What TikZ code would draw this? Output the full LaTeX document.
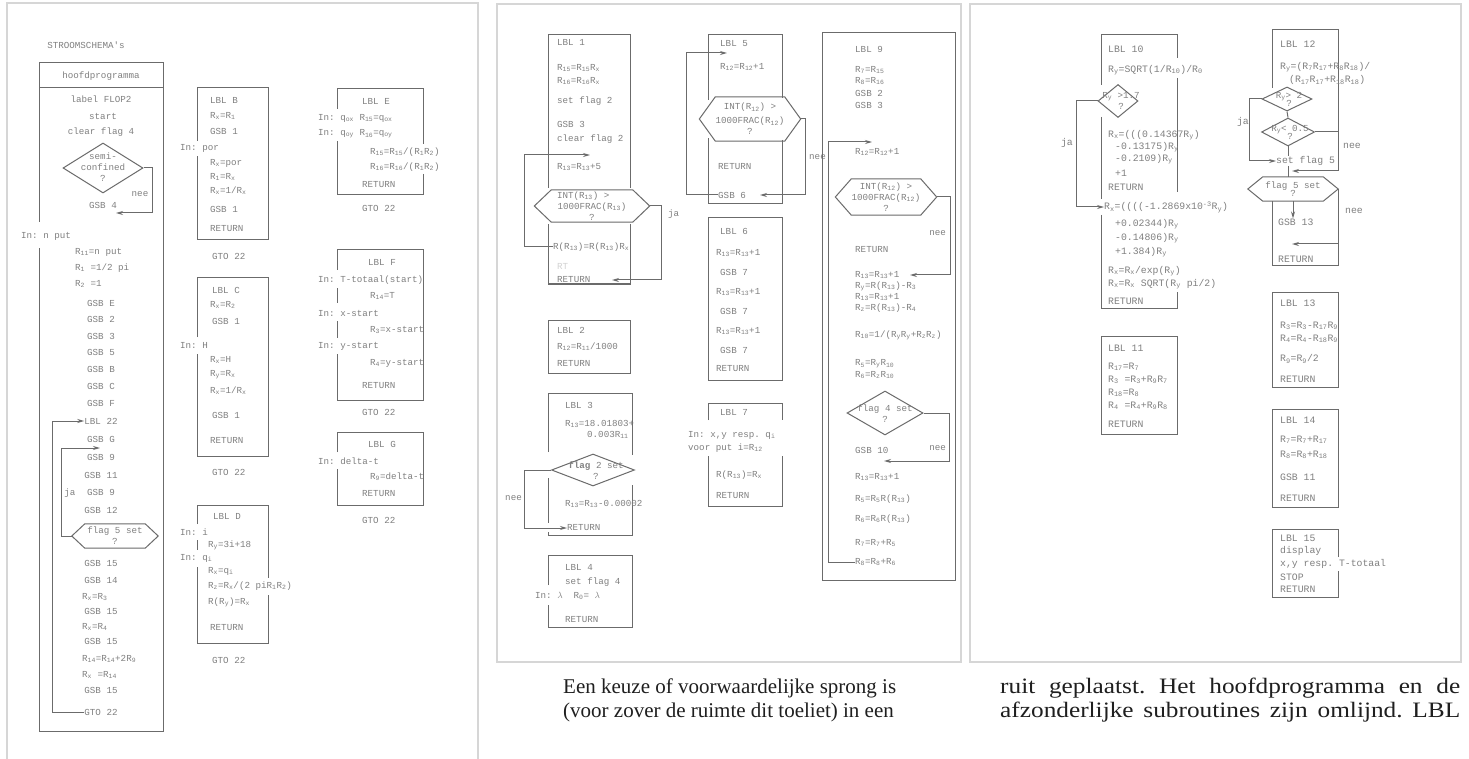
\documentclass[tikz,border=0pt]{standalone}
\usepackage{fontspec}
\setmonofont{Liberation Mono}
\newfontfamily\bodyf{Liberation Serif}
\newfontfamily\bodyw{Liberation Serif}[FakeStretch=1.15]
\usetikzlibrary{arrows.meta,shapes.geometric}
\definecolor{ink}{gray}{0.50}
\definecolor{rule}{gray}{0.42}
\definecolor{pagecol}{gray}{0.84}
\definecolor{bodycol}{gray}{0.12}
\frenchspacing
\newcommand\tw{\ttfamily\fontsize{9.2}{11}\selectfont}
\newcommand\twr{\ttfamily\fontsize{9.8}{11}\selectfont}
\newcommand\bodyfont{\bodyf\fontsize{21}{24}\selectfont}
\newcommand\sub[1]{\textsubscript{#1}}
% hexagon round a text node: name, point length
\newcommand\hexframe[2]{\draw[ln] (#1.north west) -- (#1.north east) -- ([xshift=#2]#1.east) coordinate (#1e) -- (#1.south east) -- (#1.south west) -- ([xshift=-#2]#1.west) coordinate (#1w) -- cycle;}

\begin{document}
\begin{tikzpicture}[x=1pt,y=-1pt]
\tikzset{
	txt/.style={font=\tw, text=ink, inner sep=0pt, anchor=west},
	ctxt/.style={font=\tw, text=ink, inner sep=0pt, align=center},
	hexn/.style={font=\tw, text=ink, inner sep=0pt, align=center},
	rtxt/.style={txt, font=\twr},
	ln/.style={draw=rule, line width=1pt},
	arr/.style={ln, -{Stealth[length=7pt,width=4pt]}},
	dia/.style={diamond, draw=rule, line width=1pt, inner sep=0pt},
	page/.style={draw=pagecol, line width=1.2pt},
	body/.style={font=\bodyfont, text=bodycol, inner sep=0pt, anchor=west}
}
\fill[white] (0,0) rectangle (1469,759);
\useasboundingbox (0,0) rectangle (1469,759);

% pagina's
\draw[page] (7,759) -- (7,3) -- (478,3) -- (478,759);
\draw[page] (497,4) rectangle (961,662);
\draw[page] (970,4) rectangle (1461,662);

% hoofdprogramma
\node[ctxt] (title) at (86,45) {STROOMSCHEMA's};
\draw[ln] (39,222) -- (39,63) -- (163,63) -- (163,731) -- (39,731) -- (39,248);
\draw[ln] (39,88) -- (163,88);
\node[ctxt] (hp) at (101,76) {hoofdprogramma};
\node[ctxt] (m_lbl) at (101,99) {label FLOP2};
\node[ctxt] (m_start) at (103,116) {start};
\node[ctxt] (m_clr) at (101,132) {clear flag 4};
\node[dia, minimum width=80pt, minimum height=50pt] (q_semi) at (103,168) {};
\node[ctxt] (q_semi_t) at (103,167) {semi-\\confined\\?};
\node[ctxt] (m_gsb4) at (103,205) {GSB 4};
\coordinate (c_gsb4) at (116,213);
\draw[arr] (q_semi.east) -- ++(9,0) |- (c_gsb4);
\node[ctxt] (n_semi) at (140,194) {nee};
\node[txt] (m_in) at (21,236) {In: n put};
\node[txt] (m_r11) at (75,252) {R\sub{11}=n put};
\node[txt] (m_r1) at (75,268) {R\sub{1} =1/2 pi};
\node[txt] (m_r2) at (75,284) {R\sub{2} =1};
\node[ctxt] (m_e) at (101,303) {GSB E};
\node[ctxt] (m_2) at (101,319) {GSB 2};
\node[ctxt] (m_3) at (101,336) {GSB 3};
\node[ctxt] (m_5) at (101,352) {GSB 5};
\node[ctxt] (m_b) at (101,369) {GSB B};
\node[ctxt] (m_c) at (101,386) {GSB C};
\node[ctxt] (m_f) at (101,403) {GSB F};
\node[ctxt] (m_lbl22) at (101,421) {LBL 22};
\node[ctxt] (m_g) at (101,439) {GSB G};
\node[ctxt] (m_9a) at (101,457) {GSB 9};
\node[ctxt] (m_11) at (101,475) {GSB 11};
\node[ctxt] (m_9b) at (101,492) {GSB 9};
\node[ctxt] (m_12) at (101,510) {GSB 12};
\node[hexn, minimum width=60pt, minimum height=24pt] (hF) at (115,536) {flag 5 set\\?};
\hexframe{hF}{13pt}
\coordinate (c_ja) at (100,448);
\draw[arr] (hFw) -- ++(-10,0) |- (c_ja);
\node[ctxt] (n_ja) at (70,493) {ja};
\node[ctxt] (m_15a) at (101,563) {GSB 15};
\node[ctxt] (m_14) at (101,580) {GSB 14};
\node[txt] (m_rx3) at (82,597) {R\sub{x}=R\sub{3}};
\node[ctxt] (m_15b) at (101,611) {GSB 15};
\node[txt] (m_rx4) at (82,627) {R\sub{x}=R\sub{4}};
\node[ctxt] (m_15c) at (101,641) {GSB 15};
\node[txt] (m_r14) at (82,659) {R\sub{14}=R\sub{14}+2R\sub{9}};
\node[txt] (m_rx14) at (82,675) {R\sub{x} =R\sub{14}};
\node[ctxt] (m_15d) at (101,690) {GSB 15};
\node[ctxt] (m_gto) at (101,712) {GTO 22};
\draw[arr] (m_gto.west) -- ++(-32,0) |- (m_lbl22.west);

% LBL B
\draw[ln] (197,141) -- (197,88) -- (268,88) -- (268,240) -- (197,240) -- (197,156);
\node[txt] (b_1) at (210,100) {LBL B};
\node[txt] (b_2) at (210,116) {R\sub{x}=R\sub{1}};
\node[txt] (b_3) at (210,131) {GSB 1};
\node[txt] (b_in) at (180,148) {In: por};
\node[txt] (b_4) at (210,163) {R\sub{x}=por};
\node[txt] (b_5) at (210,177) {R\sub{1}=R\sub{x}};
\node[txt] (b_6) at (210,191) {R\sub{x}=1/R\sub{x}};
\node[txt] (b_7) at (210,209) {GSB 1};
\node[txt] (b_8) at (210,229) {RETURN};
\node[txt] (b_gto) at (212,256) {GTO 22};

% LBL C
\draw[ln] (197,337) -- (197,278) -- (268,278) -- (268,456) -- (197,456) -- (197,354);
\node[txt] (c_1) at (212,290) {LBL C};
\node[txt] (c_2) at (210,305) {R\sub{x}=R\sub{2}};
\node[txt] (c_3) at (212,321) {GSB 1};
\node[txt] (c_in) at (180,345) {In: H};
\node[txt] (c_4) at (210,360) {R\sub{x}=H};
\node[txt] (c_5) at (210,375) {R\sub{y}=R\sub{x}};
\node[txt] (c_6) at (210,391) {R\sub{x}=1/R\sub{x}};
\node[txt] (c_7) at (212,415) {GSB 1};
\node[txt] (c_8) at (210,441) {RETURN};
\node[txt] (c_gto) at (212,472) {GTO 22};

% LBL D
\draw[ln] (197,524) -- (197,505) -- (268,505) -- (268,578);
\draw[ln] (268,595) -- (268,643) -- (197,643) -- (197,567);
\draw[ln] (197,540) -- (197,550);
\node[txt] (d_1) at (213,516) {LBL D};
\node[txt] (d_in1) at (180,532) {In: i};
\node[txt] (d_2) at (208,545) {R\sub{y}=3i+18};
\node[txt] (d_in2) at (180,558) {In: q\sub{i}};
\node[txt] (d_3) at (208,571) {R\sub{x}=q\sub{i}};
\node[txt] (d_4) at (208,586) {R\sub{z}=R\sub{x}/(2 piR\sub{1}R\sub{2})};
\node[txt] (d_5) at (208,602) {R(R\sub{y})=R\sub{x}};
\node[txt] (d_6) at (210,628) {RETURN};
\node[txt] (d_gto) at (212,660) {GTO 22};

% LBL E
\draw[ln] (337,109) -- (337,89) -- (423,89) -- (423,144);
\draw[ln] (423,174) -- (423,195) -- (337,195) -- (337,141);
\node[txt] (e_1) at (362,101) {LBL E};
\node[txt] (e_in1) at (318,118) {In: q\sub{ox} R\sub{15}=q\sub{ox}};
\node[txt] (e_in2) at (318,134) {In: q\sub{oy} R\sub{16}=q\sub{oy}};
\node[txt] (e_2) at (370,152) {R\sub{15}=R\sub{15}/(R\sub{1}R\sub{2})};
\node[txt] (e_3) at (370,167) {R\sub{16}=R\sub{16}/(R\sub{1}R\sub{2})};
\node[txt] (e_4) at (362,185) {RETURN};
\node[txt] (e_gto) at (362,208) {GTO 22};

% LBL F
\draw[ln] (337,270) -- (337,250) -- (423,250) -- (423,400) -- (337,400) -- (337,354);
\draw[ln] (337,288) -- (337,303);
\draw[ln] (337,321) -- (337,338);
\node[txt] (f_1) at (368,262) {LBL F};
\node[txt] (f_in1) at (318,280) {In: T-totaal(start)};
\node[txt] (f_2) at (370,296) {R\sub{14}=T};
\node[txt] (f_in2) at (318,313) {In: x-start};
\node[txt] (f_3) at (370,330) {R\sub{3}=x-start};
\node[txt] (f_in3) at (318,346) {In: y-start};
\node[txt] (f_4) at (370,363) {R\sub{4}=y-start};
\node[txt] (f_5) at (362,386) {RETURN};
\node[txt] (f_gto) at (362,412) {GTO 22};

% LBL G
\draw[ln] (337,452) -- (337,432) -- (423,432) -- (423,505) -- (337,505) -- (337,469);
\node[txt] (g_1) at (368,444) {LBL G};
\node[txt] (g_in) at (318,461) {In: delta-t};
\node[txt] (g_2) at (370,477) {R\sub{9}=delta-t};
\node[txt] (g_3) at (362,494) {RETURN};
\node[txt] (g_gto) at (362,520) {GTO 22};

% LBL 1
\draw[ln] (548,188) -- (548,35) -- (630,35) -- (630,188);
\draw[ln] (630,224) -- (630,284) -- (548,284) -- (548,224);
\node[txt] (i_1) at (557,42) {LBL 1};
\node[txt] (i_2) at (557,68) {R\sub{15}=R\sub{15}R\sub{x}};
\node[txt] (i_3) at (557,81) {R\sub{16}=R\sub{16}R\sub{x}};
\node[txt] (i_4) at (557,101) {set flag 2};
\node[txt] (i_5) at (557,124) {GSB 3};
\node[txt] (i_6) at (557,139) {clear flag 2};
\node[txt] (i_7) at (557,167) {R\sub{13}=R\sub{13}+5};
\node[hexn, minimum width=81pt, minimum height=32pt] (hA) at (592,206) {\makebox[70pt][l]{INT(R\sub{13}) >}\\1000FRAC(R\sub{13})\\?};
\hexframe{hA}{17pt}
\node[txt] (i_8) at (553,247) {R(R\sub{13})=R(R\sub{13})R\sub{x}};
\node[txt, text=ink!35] (i_rt) at (557,266) {RT};
\node[txt] (i_9) at (557,280) {RETURN};
\coordinate (c_i7) at (590,155);
\coordinate (c_i9) at (612,280);
\draw[arr] (i_8.west) -- ++(-29,0) |- (c_i7);
\draw[arr] (hAe) -- ++(12,0) |- (c_i9);
\node[txt] (n_hA) at (668,214) {ja};

% LBL 2
\draw[ln] (548,320) rectangle (630,373);
\node[txt] (k_1) at (557,330) {LBL 2};
\node[txt] (k_2) at (557,347) {R\sub{12}=R\sub{11}/1000};
\node[txt] (k_3) at (557,364) {RETURN};

% LBL 3
\draw[ln] (548,452) -- (548,393) -- (632,393) -- (632,455);
\draw[ln] (632,485) -- (632,535) -- (548,535) -- (548,532);
\draw[ln] (548,478) -- (548,523);
\node[txt] (l_1) at (565,405) {LBL 3};
\node[txt] (l_2) at (565,424) {R\sub{13}=18.01803+};
\node[txt] (l_3) at (587,435) {0.003R\sub{11}};
\node[dia, minimum width=83pt, minimum height=32pt] (q_f2) at (593,470) {};
\node[ctxt] (q_f2_t) at (596,471) {{\bfseries flag} 2 set\\?};
\node[txt] (l_4) at (565,504) {R\sub{13}=R\sub{13}-0.00002};
\node[txt] (l_5) at (567,528) {RETURN};
\draw[arr] (q_f2.west) -- ++(-27,0) |- (l_5.west);
\node[txt, anchor=east] (n_f2) at (522,498) {nee};

% LBL 4
\draw[ln] (548,585) -- (548,555) -- (632,555) -- (632,627) -- (548,627) -- (548,605);
\node[txt] (o_1) at (565,567) {LBL 4};
\node[txt] (o_2) at (565,582) {set flag 4};
\node[txt] (o_in) at (535,596) {In: $\lambda$\ \ R\sub{0}= $\lambda$};
\node[txt] (o_3) at (565,620) {RETURN};

% LBL 5
\draw[ln] (708,100) -- (708,35) -- (782,35) -- (782,98);
\draw[ln] (782,140) -- (782,204) -- (708,204) -- (708,138);
\node[txt] (p_1) at (720,44) {LBL 5};
\node[txt] (p_2) at (720,67) {R\sub{12}=R\sub{12}+1};
\node[hexn, minimum width=66pt, minimum height=44pt] (hB) at (750,119) {INT(R\sub{12}) >\\[3pt]1000FRAC(R\sub{12})\\?};
\hexframe{hB}{16pt}
\node[txt] (p_3) at (718,167) {RETURN};
\node[txt] (p_4) at (718,195) {GSB 6};
\coordinate (c_p1) at (727,53);
\coordinate (c_p4) at (760,195);
\draw[arr] (p_4.west) -- ++(-32,0) |- (c_p1);
\draw[arr] (hBe) -- ++(5,0) |- (c_p4);
\node[txt] (n_hB) at (809,157) {nee};

% LBL 6
\draw[ln] (708,218) rectangle (782,380);
\node[txt] (r_1) at (720,231) {LBL 6};
\node[txt] (r_2) at (716,253) {R\sub{13}=R\sub{13}+1};
\node[txt] (r_3) at (720,272) {GSB 7};
\node[txt] (r_4) at (716,292) {R\sub{13}=R\sub{13}+1};
\node[txt] (r_5) at (720,311) {GSB 7};
\node[txt] (r_6) at (716,331) {R\sub{13}=R\sub{13}+1};
\node[txt] (r_7) at (720,350) {GSB 7};
\node[txt] (r_8) at (716,369) {RETURN};

% LBL 7
\draw[ln] (708,420) -- (708,403) -- (782,403) -- (782,420);
\draw[ln] (782,456) -- (782,506) -- (708,506) -- (708,456);
\node[txt] (s_1) at (720,412) {LBL 7};
\node[txt] (s_in1) at (688,435) {In: x,y resp. q\sub{i}};
\node[txt] (s_in2) at (688,448) {voor put i=R\sub{12}};
\node[txt] (s_2) at (716,475) {R(R\sub{13})=R\sub{x}};
\node[txt] (s_3) at (716,496) {RETURN};

% LBL 9
\draw[ln] (822,33) rectangle (955,580);
\node[txt] (t_1) at (855,49) {LBL 9};
\node[txt] (t_2) at (855,70) {R\sub{7}=R\sub{15}};
\node[txt] (t_3) at (855,81) {R\sub{8}=R\sub{16}};
\node[txt] (t_4) at (855,93) {GSB 2};
\node[txt] (t_5) at (855,105) {GSB 3};
\node[txt] (t_6) at (855,152) {R\sub{12}=R\sub{12}+1};
\node[hexn, minimum width=64pt, minimum height=36pt] (hC) at (886,197) {INT(R\sub{12}) >\\1000FRAC(R\sub{12})\\?};
\hexframe{hC}{16pt}
\node[txt] (t_7) at (855,250) {RETURN};
\node[txt] (t_8) at (855,275) {R\sub{13}=R\sub{13}+1};
\node[txt] (t_9) at (855,286) {R\sub{y}=R(R\sub{13})-R\sub{3}};
\node[txt] (t_10) at (855,297) {R\sub{13}=R\sub{13}+1};
\node[txt] (t_11) at (855,308) {R\sub{z}=R(R\sub{13})-R\sub{4}};
\node[txt] (t_12) at (855,335) {R\sub{10}=1/(R\sub{y}R\sub{y}+R\sub{z}R\sub{z})};
\node[txt] (t_13) at (855,364) {R\sub{5}=R\sub{y}R\sub{10}};
\node[txt] (t_14) at (855,375) {R\sub{6}=R\sub{z}R\sub{10}};
\node[dia, minimum width=76pt, minimum height=44pt] (q_f4) at (885,413) {};
\node[ctxt] (q_f4_t) at (885,414) {flag 4 set\\?};
\node[txt] (t_15) at (855,450) {GSB 10};
\node[txt] (t_16) at (855,477) {R\sub{13}=R\sub{13}+1};
\node[txt] (t_17) at (855,499) {R\sub{5}=R\sub{5}R(R\sub{13})};
\node[txt] (t_18) at (855,519) {R\sub{6}=R\sub{6}R(R\sub{13})};
\node[txt] (t_19) at (855,543) {R\sub{7}=R\sub{7}+R\sub{5}};
\node[txt] (t_20) at (855,562) {R\sub{8}=R\sub{8}+R\sub{6}};
\coordinate (c_t6) at (872,142);
\coordinate (c_t8) at (910,275);
\coordinate (c_t15) at (884,461);
\draw[arr] (t_20.west) -- ++(-27,0) |- (c_t6);
\draw[arr] (hCe) -- ++(14,0) |- (c_t8);
\draw[arr] (q_f4.east) -- ++(26,0) |- (c_t15);
\node[txt, anchor=east] (n_hC) at (946,233) {nee};
\node[txt, anchor=east] (n_f4) at (946,448) {nee};

% LBL 10
\draw[ln] (1101,85) -- (1101,35) -- (1177,35) -- (1177,58);
\draw[ln] (1177,78) -- (1177,192);
\draw[ln] (1101,117) -- (1101,199);
\draw[ln] (1101,215) -- (1101,308) -- (1177,308) -- (1177,292);
\node[rtxt] (u_1) at (1108,49) {LBL 10};
\node[rtxt] (u_2) at (1108,70) {R\sub{y}=SQRT(1/R\sub{10})/R\sub{0}};
\node[dia, minimum width=40pt, minimum height=33pt] (q_17) at (1118,101) {};
\node[ctxt] (q_17_t) at (1121,101) {R\sub{y} >1.7\\?};
\node[rtxt] (u_3) at (1108,135) {R\sub{x}=(((0.14367R\sub{y})};
\node[rtxt] (u_4) at (1115,147) {-0.13175)R\sub{y}};
\node[rtxt] (u_5) at (1115,159) {-0.2109)R\sub{y}};
\node[rtxt] (u_6) at (1115,173) {+1};
\node[rtxt] (u_7) at (1108,187) {RETURN};
\node[rtxt] (u_8) at (1104,207) {R\sub{x}=((((-1.2869x10\textsuperscript{-3}R\sub{y})};
\node[rtxt] (u_9) at (1115,224) {+0.02344)R\sub{y}};
\node[rtxt] (u_10) at (1115,238) {-0.14806)R\sub{y}};
\node[rtxt] (u_11) at (1115,252) {+1.384)R\sub{y}};
\node[rtxt] (u_12) at (1108,271) {R\sub{x}=R\sub{x}/exp(R\sub{y})};
\node[rtxt] (u_13) at (1108,284) {R\sub{x}=R\sub{x} SQRT(R\sub{y} pi/2)};
\node[rtxt] (u_14) at (1108,301) {RETURN};
\draw[arr] (q_17.west) -- ++(-21,0) |- (u_8.west);
\node[rtxt, anchor=east] (n_17) at (1073,143) {ja};

% LBL 11
\draw[ln] (1101,336) rectangle (1177,434);
\node[rtxt] (v_1) at (1108,348) {LBL 11};
\node[rtxt] (v_2) at (1108,367) {R\sub{17}=R\sub{7}};
\node[rtxt] (v_3) at (1108,380) {R\sub{3} =R\sub{3}+R\sub{9}R\sub{7}};
\node[rtxt] (v_4) at (1108,393) {R\sub{18}=R\sub{8}};
\node[rtxt] (v_5) at (1108,406) {R\sub{4} =R\sub{4}+R\sub{9}R\sub{8}};
\node[rtxt] (v_6) at (1108,424) {RETURN};

% LBL 12
\draw[ln] (1272,88) -- (1272,30) -- (1338,30) -- (1338,132);
\draw[ln] (1338,244) -- (1338,266) -- (1272,266) -- (1272,201);
\node[rtxt] (w_1) at (1280,44) {LBL 12};
\node[rtxt] (w_2) at (1280,67) {R\sub{y}=(R\sub{7}R\sub{17}+R\sub{8}R\sub{18})/};
\node[rtxt] (w_3) at (1289,80) {(R\sub{17}R\sub{17}+R\sub{18}R\sub{18})};
\node[dia, minimum width=50pt, minimum height=24pt] (q_2) at (1287,99) {};
\node[ctxt] (q_2_t) at (1289,99) {R\sub{y}> 2\\[-3pt]?};
\node[dia, minimum width=53pt, minimum height=28pt] (q_05) at (1288,132) {};
\node[ctxt] (q_05_t) at (1290,132) {R\sub{y}< 0.5\\[-3pt]?};
\node[rtxt] (w_4) at (1276,161) {set flag 5};
\node[hexn, minimum width=60pt, minimum height=24pt] (hD) at (1293,189) {flag 5 set\\[-3pt]?};
\hexframe{hD}{15pt}
\node[rtxt] (w_5) at (1278,222) {GSB 13};
\node[rtxt] (w_6) at (1278,259) {RETURN};
\coordinate (c_w4) at (1292,171);
\coordinate (c_w5) at (1292,244);
\draw[arr] (q_2.west) -- ++(-12,0) |- (w_4.west);
\draw[ln] (q_2.south) -- (q_05.north);
\draw[ln] (q_05.south) -- (q_05.south |- w_4.north);
\draw[ln] (q_05.south |- w_4.south) -- (q_05.south |- hD.north);
\draw[arr] (q_05.east) -- (1338,132) |- (c_w4);
\draw[arr] (hDe) |- (c_w5);
\draw[arr] (hD.south) -- (hD.south |- w_5.north);
\node[rtxt] (n_05) at (1343,146) {nee};
\node[rtxt] (n_hD) at (1345,211) {nee};
\node[rtxt, anchor=east] (n_2) at (1249,122) {ja};

% LBL 13
\draw[ln] (1272,292) rectangle (1338,387);
\node[rtxt] (x_1) at (1280,303) {LBL 13};
\node[rtxt] (x_2) at (1280,326) {R\sub{3}=R\sub{3}-R\sub{17}R\sub{9}};
\node[rtxt] (x_3) at (1280,339) {R\sub{4}=R\sub{4}-R\sub{18}R\sub{9}};
\node[rtxt] (x_4) at (1280,359) {R\sub{9}=R\sub{9}/2};
\node[rtxt] (x_5) at (1280,379) {RETURN};

% LBL 14
\draw[ln] (1272,409) rectangle (1338,507);
\node[rtxt] (y_1) at (1280,420) {LBL 14};
\node[rtxt] (y_2) at (1280,440) {R\sub{7}=R\sub{7}+R\sub{17}};
\node[rtxt] (y_3) at (1280,455) {R\sub{8}=R\sub{8}+R\sub{18}};
\node[rtxt] (y_4) at (1280,477) {GSB 11};
\node[rtxt] (y_5) at (1280,498) {RETURN};

% LBL 15
\draw[ln] (1338,557) -- (1338,529) -- (1272,529) -- (1272,597) -- (1338,597) -- (1338,571);
\node[rtxt] (z_1) at (1280,538) {LBL 15};
\node[rtxt] (z_2) at (1280,551) {display};
\node[rtxt] (z_3) at (1280,564) {x,y resp. T-totaal};
\node[rtxt] (z_4) at (1280,577) {STOP};
\node[rtxt] (z_5) at (1280,589) {RETURN};

% tekst onder de figuren
\node[body] (p_a) at (563,688) {Een keuze of voorwaardelijke sprong is};
\node[body] (p_b) at (563,712) {(voor zover de ruimte dit toeliet) in een};
\node[body, font=\bodyw\fontsize{22}{24}\selectfont] (p_c) at (1000,688) {\makebox[460pt][s]{ruit geplaatst. Het hoofdprogramma en de}};
\node[body, font=\bodyw\fontsize{22}{24}\selectfont] (p_d) at (1000,712) {\makebox[460pt][s]{afzonderlijke subroutines zijn omlijnd. LBL}};

\end{tikzpicture}
\end{document}
